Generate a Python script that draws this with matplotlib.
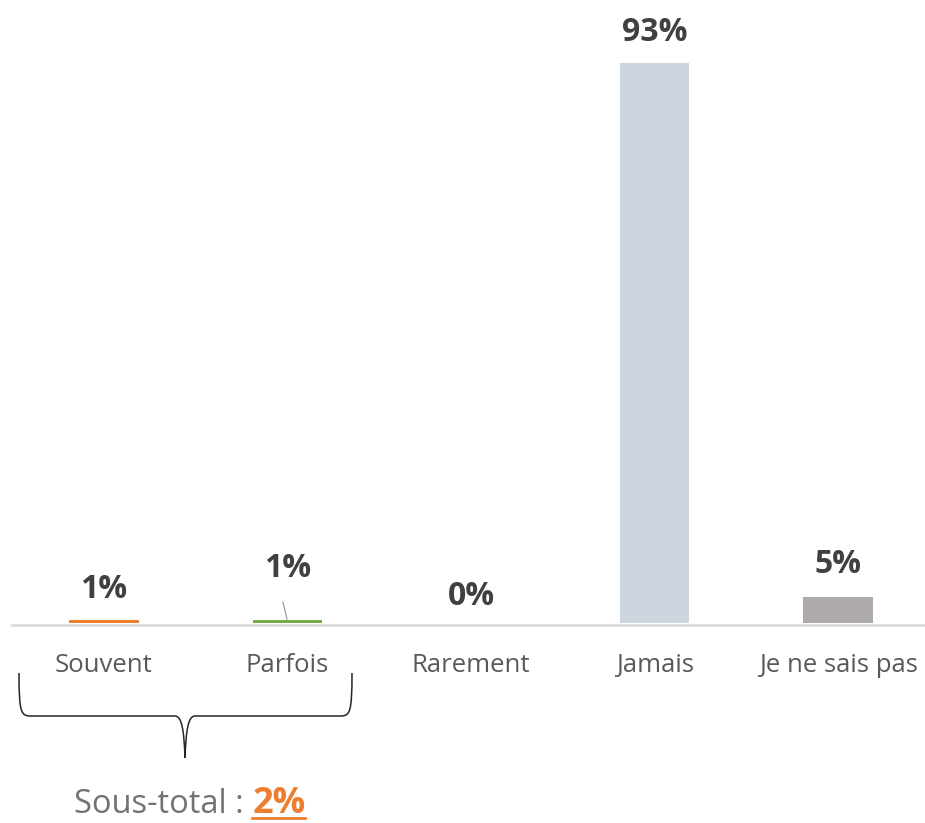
import matplotlib
matplotlib.use("Agg")
import matplotlib.pyplot as plt
from matplotlib.path import Path
from matplotlib.patches import PathPatch
from matplotlib.lines import Line2D

categories = ["Souvent", "Parfois", "Rarement", "Jamais", "Je ne sais pas"]
values = [0.35, 0.35, 0.0, 93.0, 4.3]
labels = ["1%", "1%", "0%", "93%", "5%"]
colors = ["#ED7D31", "#70AD47", "#A5A5A5", "#CDD5DF", "#AEAAAA"]
label_y = [4.1, 7.6, 2.9, 96.7, 8.2]
subtotal_text = "Sous-total : "
subtotal_value = "2%"

plt.rcParams['font.family'] = ['Open Sans', 'DejaVu Sans']

W, H = 925, 823
fig = plt.figure(figsize=(W / 100, H / 100), dpi=100)
ax = fig.add_axes([12 / W, (H - 625) / H, (930 - 12) / W, (625 - 21) / H])
ax.set_xlim(-0.5, 4.5)
ax.set_ylim(-0.4, 100)

x = list(range(len(categories)))
ax.bar(x, values, width=0.38, color=colors, zorder=3)
for xi, lab, ly in zip(x, labels, label_y):
    ax.text(xi, ly, lab, ha='center', va='baseline', fontsize=23, fontweight='bold',
            color='#404040', zorder=4)

# leader line for Parfois label
ax.plot([0.976, 0.998], [3.4, 0.6], color='#A6A6A6', lw=1, zorder=3)

for s in ['top', 'right', 'left']:
    ax.spines[s].set_visible(False)
ax.spines['bottom'].set_color('#D9D9D9')
ax.spines['bottom'].set_linewidth(1.8)
ax.set_yticks([])
ax.set_xticks(x)
ax.set_xticklabels(categories, fontsize=18.5, color='#595959')
for t in ax.get_xticklabels():
    t.set_verticalalignment('baseline')
ax.tick_params(axis='x', length=0, pad=33.8)

# curly brace in figure pixel coords (y from top)
def fy(y):
    return (H - y) / H
def fx(xp):
    return xp / W

xl, xr, yt, ym, yb, xm = 19, 352, 673, 716, 758, 185
verts = [
    (xl, yt), (xl, ym - 3), (xl + 2, ym), (xl + 12, ym),
    (xm - 10, ym), (xm - 3, ym), (xm - 1, ym + 15), (xm, yb),
    (xm + 1, ym + 15), (xm + 3, ym), (xm + 10, ym),
    (xr - 12, ym), (xr - 2, ym), (xr, ym - 3), (xr, yt),
]
codes = [Path.MOVETO, Path.CURVE4, Path.CURVE4, Path.CURVE4,
         Path.LINETO, Path.CURVE4, Path.CURVE4, Path.CURVE4,
         Path.CURVE4, Path.CURVE4, Path.CURVE4,
         Path.LINETO, Path.CURVE4, Path.CURVE4, Path.CURVE4]
path = Path([(fx(a), fy(b)) for a, b in verts], codes)
fig.patches.append(PathPatch(path, transform=fig.transFigure, fill=False,
                             edgecolor='#262626', lw=1.1))

t1 = fig.text(fx(74), fy(813), subtotal_text, ha='left', va='baseline',
              fontsize=23.5, color='#767171')
fig.canvas.draw()
r = fig.canvas.get_renderer()
bb = t1.get_window_extent(r)
t2 = fig.text(bb.x1 / W, fy(813), subtotal_value, ha='left', va='baseline',
              fontsize=26, fontweight='bold', color='#ED7D31')
fig.canvas.draw()
bb2 = t2.get_window_extent(r)
fig.add_artist(Line2D([bb2.x0 / W, bb2.x1 / W], [fy(818), fy(818)],
                      transform=fig.transFigure, color='#ED7D31', lw=2))

fig.savefig("out.png", dpi=100)
